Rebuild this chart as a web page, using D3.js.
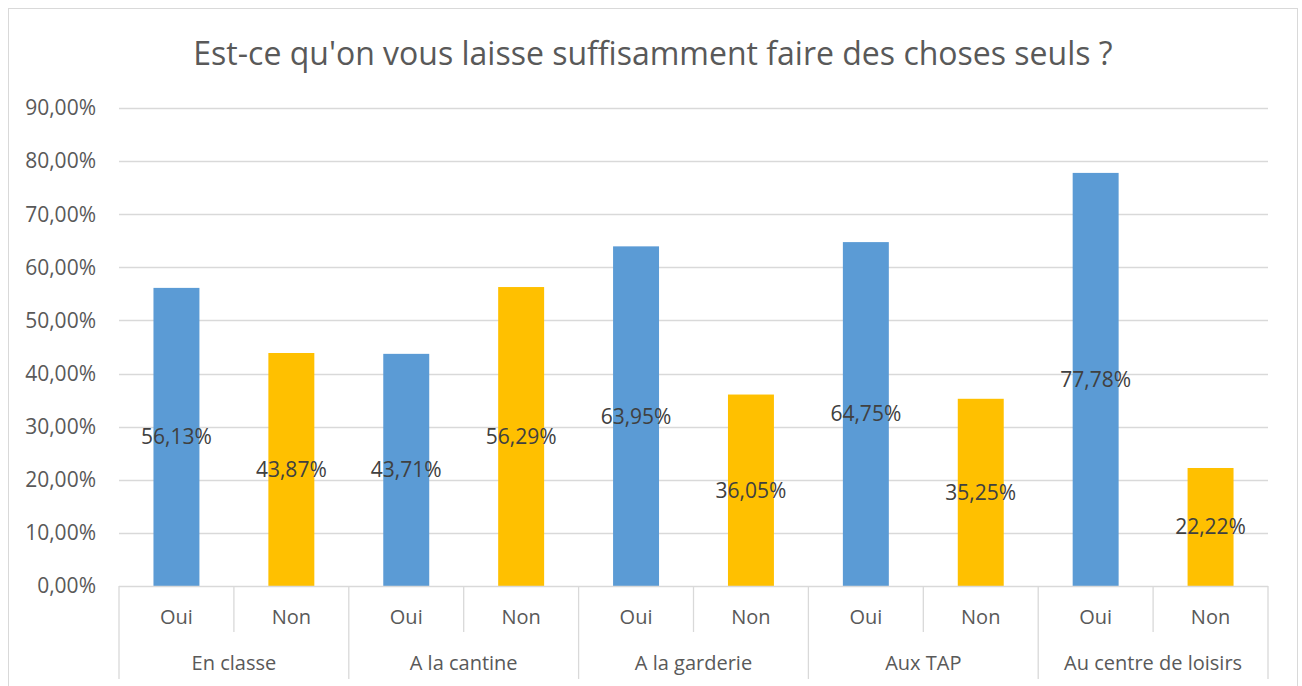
<!DOCTYPE html>
<html>
<head>
<meta charset="utf-8">
<script src="https://cdn.jsdelivr.net/npm/d3@7"></script>
<style>
  html, body { margin: 0; padding: 0; background: #fff; }
  svg { display: block; font-family: "Open Sans", "Noto Sans", sans-serif; }
</style>
</head>
<body>
<div id="chart"></div>
<script>
'use strict';

// data
var groups = ["En classe", "A la cantine", "A la garderie", "Aux TAP", "Au centre de loisirs"];
var answers = ["Oui", "Non"];
var ouiValues = [0.5613, 0.4371, 0.6395, 0.6475, 0.7778];
var nonValues = [0.4387, 0.5629, 0.3605, 0.3525, 0.2222];
var yTicks = [0, 0.1, 0.2, 0.3, 0.4, 0.5, 0.6, 0.7, 0.8, 0.9];
var title = "Est-ce qu'on vous laisse suffisamment faire des choses seuls ?";

(function() {
  var W = 1302, H = 686;
  var plotLeft = 119, plotRight = 1268, plotTop = 108, plotBottom = 586;
  var colors = { Oui: "#5B9BD5", Non: "#FFC000" };

  var fr = d3.formatLocale({ decimal: ",", thousands: " ", grouping: [3], currency: ["", " €"] });
  var pct = fr.format(".2%");

  var rows = [];
  groups.forEach(function(g, i) {
    rows.push({ group: g, answer: "Oui", value: ouiValues[i] });
    rows.push({ group: g, answer: "Non", value: nonValues[i] });
  });

  var svg = d3.select("#chart").append("svg")
    .attr("width", W)
    .attr("height", H);

  // outer chart border
  svg.append("rect")
    .attr("x", 8.5).attr("y", 8.5)
    .attr("width", 1289).attr("height", 700)
    .attr("fill", "#fff")
    .attr("stroke", "#D9D9D9");

  var x0 = d3.scaleBand().domain(groups).range([plotLeft, plotRight]).padding(0);
  var x1 = d3.scaleBand().domain(answers).range([0, x0.bandwidth()])
    .paddingInner(0.6).paddingOuter(0.3);
  var y = d3.scaleLinear().domain([0, 0.9]).range([plotBottom, plotTop]);

  // gridlines
  svg.append("g").selectAll("line")
    .data(yTicks.slice(1))
    .enter().append("line")
    .attr("x1", plotLeft).attr("x2", plotRight)
    .attr("y1", function(d) { return Math.round(y(d)) + 0.5; })
    .attr("y2", function(d) { return Math.round(y(d)) + 0.5; })
    .attr("stroke", "#D9D9D9")
    .attr("stroke-width", 1.3);

  // y tick labels
  svg.append("g").selectAll("text")
    .data(yTicks)
    .enter().append("text")
    .attr("x", 96)
    .attr("y", function(d) { return y(d); })
    .attr("dy", "0.35em")
    .attr("text-anchor", "end")
    .attr("fill", "#595959")
    .style("font-size", "21px")
    .text(function(d) { return pct(d); });

  // bars
  svg.append("g").selectAll("rect")
    .data(rows)
    .enter().append("rect")
    .attr("x", function(d) { return x0(d.group) + x1(d.answer); })
    .attr("y", function(d) { return y(d.value); })
    .attr("width", x1.bandwidth())
    .attr("height", function(d) { return y(0) - y(d.value); })
    .attr("fill", function(d) { return colors[d.answer]; });

  // data labels centred in bars
  svg.append("g").selectAll("text")
    .data(rows)
    .enter().append("text")
    .attr("x", function(d) { return x0(d.group) + x1(d.answer) + x1.bandwidth() / 2; })
    .attr("y", function(d) { return (y(d.value) + y(0)) / 2; })
    .attr("dy", "0.35em")
    .attr("text-anchor", "middle")
    .attr("fill", "#404040")
    .style("font-size", "21px")
    .text(function(d) { return pct(d.value); });

  // category axis
  var axis = svg.append("g").attr("stroke", "#D9D9D9").attr("stroke-width", 1.3);
  axis.append("line")
    .attr("x1", plotLeft).attr("x2", plotRight)
    .attr("y1", plotBottom + 0.5).attr("y2", plotBottom + 0.5);

  var slot = x0.bandwidth() / 2;
  groups.forEach(function(g) {
    var gx = x0(g);
    axis.append("line")
      .attr("x1", gx + slot).attr("x2", gx + slot)
      .attr("y1", plotBottom).attr("y2", 632);
  });
  d3.range(groups.length + 1).forEach(function(i) {
    var gx = plotLeft + i * x0.bandwidth();
    axis.append("line")
      .attr("x1", gx).attr("x2", gx)
      .attr("y1", plotBottom).attr("y2", 679);
  });

  // inner labels
  svg.append("g").selectAll("text")
    .data(rows)
    .enter().append("text")
    .attr("x", function(d) { return x0(d.group) + x1(d.answer) + x1.bandwidth() / 2; })
    .attr("y", 617)
    .attr("dy", "0.35em")
    .attr("text-anchor", "middle")
    .attr("fill", "#595959")
    .style("font-size", "20px")
    .text(function(d) { return d.answer; });

  // group labels
  svg.append("g").selectAll("text")
    .data(groups)
    .enter().append("text")
    .attr("x", function(d) { return x0(d) + x0.bandwidth() / 2; })
    .attr("y", 663)
    .attr("dy", "0.35em")
    .attr("text-anchor", "middle")
    .attr("fill", "#595959")
    .style("font-size", "20px")
    .text(function(d) { return d; });

  // title
  svg.append("text")
    .attr("x", 653)
    .attr("y", 65)
    .attr("text-anchor", "middle")
    .attr("fill", "#595959")
    .style("font-size", "32px")
    .text(title);
})();
</script>
</body>
</html>
